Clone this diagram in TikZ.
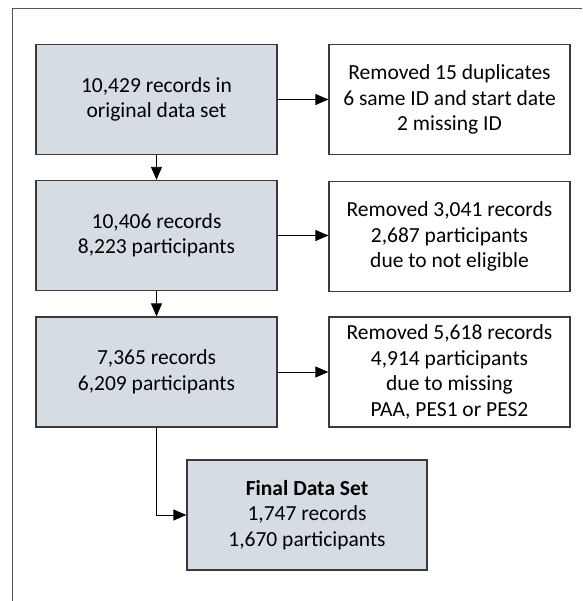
\documentclass[tikz,border=0pt]{standalone}
\usepackage{fontspec}
\setmainfont{Carlito}
\usetikzlibrary{arrows.meta}
\definecolor{boxfill}{HTML}{D6DCE4}
\definecolor{boxline}{HTML}{3A3A3A}
\definecolor{framecol}{HTML}{555555}
\tikzset{
  flowbox/.style={draw=boxline, line width=1.3pt, minimum width=241pt, minimum height=110pt,
    align=center, inner sep=2pt, font=\fontsize{21.5}{25.5}\selectfont, text=black},
  stage/.style={flowbox, fill=boxfill},
  removal/.style={flowbox, fill=white},
  flow/.style={line width=0.9pt, draw=black, -{Triangle[length=13pt,width=11pt]}}
}
\begin{document}
\begin{tikzpicture}[x=1pt,y=1pt]
\useasboundingbox (0,0) rectangle (582,-601);
% outer frame (left and top edges)
\draw[framecol, line width=1pt] (12.5,-601) -- (12.5,-9) -- (582,-9);

% main stages
\node[stage] (s1) at (156.5,-99.5) {10,429 records in\\original data set};
\node[stage] (s2) at (156.5,-235.5) {10,406 records\\8,223 participants};
\node[stage] (s3) at (156.5,-372) {7,365 records\\6,209 participants};
\node[stage, minimum width=240pt] (fin) at (307,-515) {\textbf{Final Data Set}\\1,747 records\\1,670 participants};

% removal notes
\node[removal] (r1) at (449.5,-99.5) {Removed 15 duplicates\\6 same ID and start date\\2 missing ID};
\node[removal] (r2) at (449.5,-236.5) {Removed 3,041 records\\2,687 participants\\due to not eligible};
\node[removal] (r3) at (449.5,-372) {Removed 5,618 records\\4,914 participants\\due to missing\\PAA, PES1 or PES2};

% connectors
\draw[flow] (s1.east) -- (r1.west);
\draw[flow] (s2.east) -- (s2.east -| r2.west);
\draw[flow] (s3.east) -- (r3.west);
\draw[flow] (s1.south) -- (s2.north);
\draw[flow] (s2.south) -- (s3.north);
\draw[flow] (s3.south) |- (fin.west);
\end{tikzpicture}
\end{document}
